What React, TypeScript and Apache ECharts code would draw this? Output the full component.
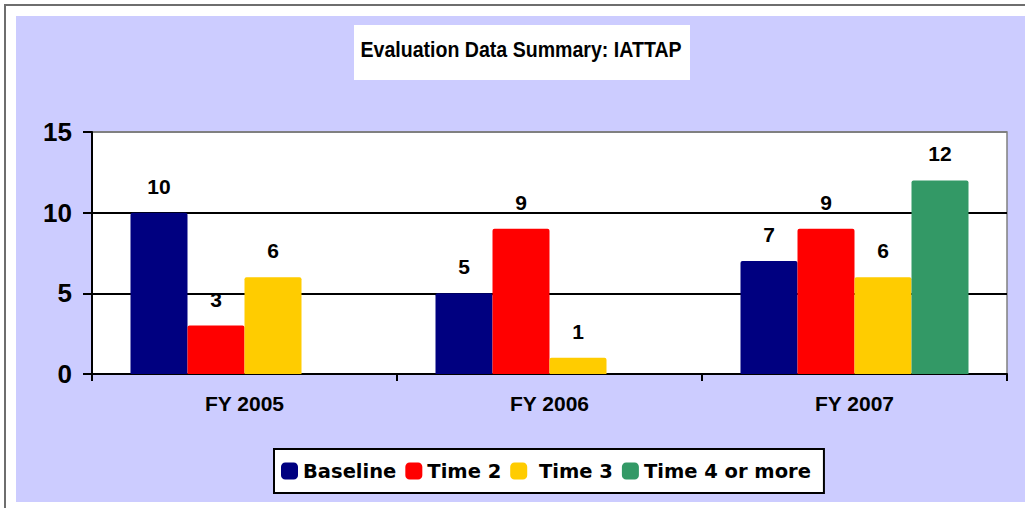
import React, { useEffect, useRef } from "react";
import * as echarts from "echarts";

const categories = ["FY 2005", "FY 2006", "FY 2007"];
const seriesNames = ["Baseline", "Time 2", " Time 3", "Time 4 or more"];
const baseline = [10, 5, 7];
const time2 = [3, 9, 9];
const time3 = [6, 1, 6];
const time4 = [null, null, 12];
const yTicks = { min: 0, max: 15, interval: 5 };
const titleText = "Evaluation Data Summary: IATTAP";

const colors = ["#000080", "#FF0000", "#FFCC00", "#339966"];
const FONT = "'Liberation Sans', Arial, sans-serif";

export default function App() {
  const ref = useRef<HTMLDivElement>(null);
  useEffect(() => {
    if (!ref.current) return;
    const chart = echarts.init(ref.current, undefined, { renderer: "svg" });
    const values = [baseline, time2, time3, time4];
    const option: any = {
      animation: false,
      backgroundColor: "#FFFFFF",
      textStyle: { fontFamily: FONT },
      graphic: [
        { type: "rect", z: -100, shape: { x: 16, y: 16, width: 1009, height: 486 }, style: { fill: "#CCCCFF" } },
        { type: "rect", z: -100, shape: { x: 4, y: 4, width: 1021, height: 2 }, style: { fill: "#6E6E6E" } },
        { type: "rect", z: -100, shape: { x: 4, y: 4, width: 2, height: 504 }, style: { fill: "#6E6E6E" } },
        { type: "rect", z: -90, shape: { x: 354, y: 25, width: 336, height: 55 }, style: { fill: "#FFFFFF" } },
        {
          type: "text",
          z: -80,
          x: 521,
          y: 49,
          scaleX: 0.89,
          style: {
            text: titleText,
            fill: "#000",
            fontFamily: "Liberation Sans",
            fontWeight: "bold",
            fontSize: 22,
            align: "center",
            verticalAlign: "middle",
          },
        },
      ],
      grid: {
        left: 92,
        top: 132,
        right: 18,
        bottom: 134,
        show: true,
        backgroundColor: "#FFFFFF",
        borderColor: "#808080",
        borderWidth: 1.5,
      },
      legend: {
        left: 274,
        top: 449,
        orient: "horizontal",
        icon: "roundRect",
        itemWidth: 17,
        itemHeight: 17,
        itemGap: 9,
        padding: [12, 13, 12, 7],
        backgroundColor: "#FFFFFF",
        borderColor: "#000000",
        borderWidth: 2,
        borderRadius: 0,
        textStyle: {
          fontFamily: "'DejaVu Sans', sans-serif",
          fontWeight: "bold",
          fontSize: 19.5,
          color: "#000",
        },
        data: seriesNames,
      },
      xAxis: {
        type: "category",
        data: categories,
        axisLine: { show: true, lineStyle: { color: "#000", width: 2 } },
        axisTick: { show: true, length: 7, interval: 0, lineStyle: { color: "#000", width: 2 } },
        axisLabel: { color: "#000", fontSize: 21, fontWeight: "bold", margin: 19, fontFamily: FONT },
        splitLine: { show: false },
      },
      yAxis: {
        type: "value",
        min: yTicks.min,
        max: yTicks.max,
        interval: yTicks.interval,
        axisLine: { show: true, lineStyle: { color: "#000", width: 2 } },
        axisTick: { show: true, length: 9, inside: false, lineStyle: { color: "#000", width: 2 } },
        axisLabel: { color: "#000", fontSize: 26, fontWeight: "bold", margin: 20, fontFamily: FONT },
        splitLine: { show: true, lineStyle: { color: ["#000", "#000", "#000", "#808080"], width: 2 } },
      },
      series: seriesNames.map((name, i) => ({
        name,
        type: "bar",
        data: values[i],
        barWidth: 57,
        barGap: "0%",
        itemStyle: { color: colors[i], borderRadius: [2, 2, 0, 0] },
        label: {
          show: true,
          position: "top",
          distance: 16,
          color: "#000",
          fontSize: 21,
          fontWeight: "bold",
          fontFamily: FONT,
        },
      })),
    };
    chart.setOption(option);
    return () => chart.dispose();
  }, []);
  return (
    <div
      ref={ref}
      style={{ position: "absolute", left: 0, top: 0, width: 1025, height: 508 }}
    />
  );
}
